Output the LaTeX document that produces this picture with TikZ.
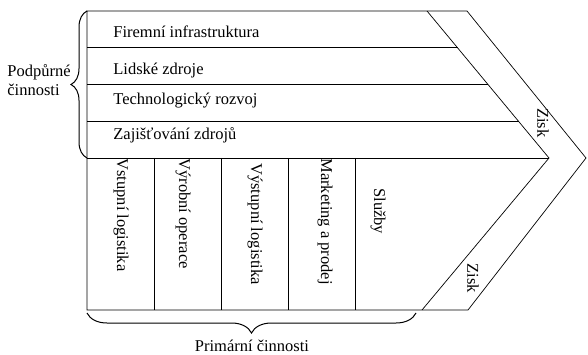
\documentclass[tikz,border=0pt]{standalone}
\usepackage{fontspec}
\setmainfont{Liberation Serif}
\usepackage{tikz}
\usetikzlibrary{calc,decorations.pathreplacing,positioning}

\begin{document}
\begin{tikzpicture}[x=1pt,y=-1pt,line width=0.7pt,
		font=\fontsize{16.5}{18.5}\selectfont,
		rowtext/.style={anchor=base west,inner sep=0pt},
		coltext/.style={rotate=-90,anchor=west,inner sep=0pt},
		curly/.style={decorate,line width=1pt}]
		\useasboundingbox (0,0) rectangle (588,355);
		\coordinate (tl) at (87,11);
		\coordinate (bl) at (87,310);
		\coordinate (mid) at (87,158);
		\coordinate (in) at (427,11);
		\coordinate (tip) at (549,158);
		\coordinate (bin) at (422,310);
		\coordinate (out) at (467,11);
		\coordinate (otip) at (586,158);
		\coordinate (bout) at (468,310);
		\draw (tl) -- (out) -- (otip) -- (bout) -- (bl) -- cycle;
		\draw (in) -- (tip) -- (bin);
		\draw (mid) -- (tip);
		\foreach \f in {0.25,0.5,0.75}
			\draw ($(tl)!\f!(mid)$) -- ($(in)!\f!(tip)$);
		\foreach \x in {154,221,288,355}
			\draw (\x,158) -- (\x,310);
		% podpurne cinnosti
		\node[rowtext] (infra) at (113,38) {Firemní infrastruktura};
		\node[rowtext] (lidske) at (113,74.5) {Lidské zdroje};
		\node[rowtext] (tech) at (113,105) {Technologický rozvoj};
		\node[rowtext] (zdroje) at (113,140) {Zajišťování zdrojů};
		% primarni cinnosti
		\node[coltext] (vstup) at (121,158) {Vstupní logistika};
		\node[coltext] (vyroba) at (183,158) {Výrobní operace};
		\node[coltext] (vystup) at (255,163) {Výstupní logistika};
		\node[coltext] (market) at (325,158) {Marketing a prodej};
		\node[coltext] (sluzby) at (378,188) {Služby};
		\node[rotate=-90,inner sep=0pt] (zisk1) at (543,123) {Zisk};
		\node[rotate=-90,inner sep=0pt] (zisk2) at (473,278) {Zisk};
		% zavorky
		\draw[curly,decoration={brace,amplitude=16pt}] (mid) -- (tl);
		\draw[curly,decoration={brace,amplitude=20pt}] (416,313) -- (87,313);
		\node[anchor=west,align=left,inner sep=0pt] (podp) at (7,80) {Podpůrné\\činnosti};
		\node[anchor=base,inner sep=0pt] (prim) at (252,351) {Primární činnosti};
\end{tikzpicture}
\end{document}
